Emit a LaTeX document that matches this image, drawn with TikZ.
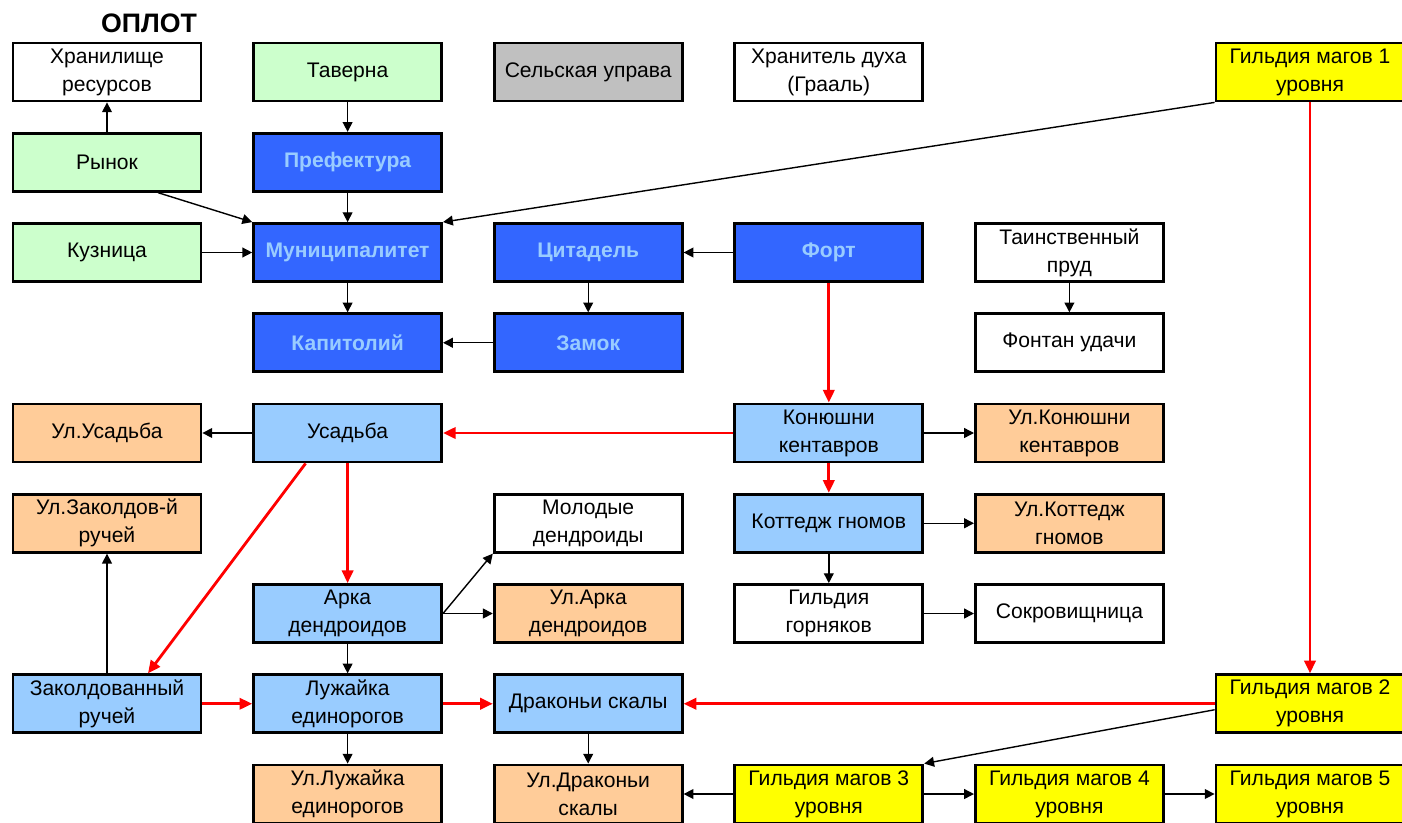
\documentclass[tikz,border=0pt]{standalone}
\usepackage{fontspec}
\setmainfont{Liberation Sans}
\usetikzlibrary{arrows.meta}
\definecolor{mintgreen}{HTML}{CCFFCC}
\definecolor{royal}{HTML}{3366FF}
\definecolor{sky}{HTML}{99CCFF}
\definecolor{peach}{HTML}{FFCC99}
\definecolor{lemon}{HTML}{FFFF00}
\definecolor{silver}{HTML}{C0C0C0}
\definecolor{arrowred}{HTML}{FF0000}
\tikzset{
    building/.style={draw, line width=2pt, minimum width=4.7cm, minimum height=1.45cm,
        inner sep=2pt, align=center, font=\fontsize{15}{20}\selectfont},
    plainbox/.style={building, fill=white},
    greenbox/.style={building, fill=mintgreen},
    greybox/.style={building, fill=silver},
    darkbox/.style={building, fill=royal, text=sky, font=\fontsize{15}{20}\selectfont\bfseries},
    lightbox/.style={building, fill=sky},
    streetbox/.style={building, fill=peach},
    guildbox/.style={building, fill=lemon},
    link/.style={-{Triangle[length=7pt,width=7pt]}, line width=1pt},
    mainlink/.style={-{Triangle[length=9pt,width=8pt]}, line width=2pt, arrowred},
}
\begin{document}
\begin{tikzpicture}[x=6.015cm, y=-2.25625cm]
\useasboundingbox (-2.675cm,1.8cm) rectangle (32.375cm,-18.75cm);
% buildings, column/row on the grid
\foreach \n/\c/\r/\t in {hran/0/0/{Хранилище\\ресурсов}, hranit/3/0/{Хранитель духа\\(Грааль)},
    prud/4/2/{Таинственный\\пруд}, fontan/4/3/{Фонтан удачи}, molod/2/5/{Молодые\\дендроиды},
    gorn/3/6/{Гильдия\\горняков}, sokr/4/6/{Сокровищница}} {
    \node[plainbox] (\n) at (\c,\r) {\t};
}
\foreach \n/\c/\r/\t in {taverna/1/0/{Таверна}, rynok/0/1/{Рынок}, kuzn/0/2/{Кузница}} {
    \node[greenbox] (\n) at (\c,\r) {\t};
}
\node[greybox] (uprava) at (2,0) {Сельская управа};
\foreach \n/\c/\r/\t in {pref/1/1/{Префектура}, munic/1/2/{Муниципалитет}, citad/2/2/{Цитадель},
    fort/3/2/{Форт}, kapit/1/3/{Капитолий}, zamok/2/3/{Замок}} {
    \node[darkbox] (\n) at (\c,\r) {\t};
}
\foreach \n/\c/\r/\t in {usad/1/4/{Усадьба}, konyu/3/4/{Конюшни\\кентавров}, kott/3/5/{Коттедж гномов},
    arka/1/6/{Арка\\дендроидов}, zakol/0/7/{Заколдованный\\ручей}, luzh/1/7/{Лужайка\\единорогов},
    drak/2/7/{Драконьи скалы}} {
    \node[lightbox] (\n) at (\c,\r) {\t};
}
\foreach \n/\c/\r/\t in {ulusad/0/4/{Ул.Усадьба}, ulkonyu/4/4/{Ул.Конюшни\\кентавров},
    ulzakol/0/5/{Ул.Заколдов-й\\ручей}, ulkott/4/5/{Ул.Коттедж\\гномов}, ularka/2/6/{Ул.Арка\\дендроидов},
    ulluzh/1/8/{Ул.Лужайка\\единорогов}, uldrak/2/8/{Ул.Драконьи\\скалы}} {
    \node[streetbox] (\n) at (\c,\r) {\t};
}
\foreach \n/\c/\r/\t in {gm1/5/0/1, gm2/5/7/2, gm3/3/8/3, gm4/4/8/4, gm5/5/8/5} {
    \node[guildbox] (\n) at (\c,\r) {Гильдия магов \t\\уровня};
}
\node[font=\fontsize{19}{22}\selectfont\bfseries] (title) at ([xshift=1.05cm,yshift=0.45cm]hran.north) {ОПЛОТ};
% black links
\foreach \a/\b in {rynok/hran, taverna/pref, pref/munic, kuzn/munic, munic/kapit, fort/citad,
    citad/zamok, zamok/kapit, prud/fontan, usad/ulusad, konyu/ulkonyu, kott/ulkott, kott/gorn,
    gorn/sokr, arka/ularka, arka/luzh, zakol/ulzakol, luzh/ulluzh, drak/uldrak, gm3/uldrak,
    gm3/gm4, gm4/gm5} {
    \draw[link] (\a) -- (\b);
}
\draw[link] ([xshift=1.275cm]rynok.south) -- (munic.north west);
\draw[link] (gm1.south west) -- (munic.north east);
\draw[link] (arka.east) -- (molod.south west);
\draw[link] ([yshift=-0.15cm]gm2.west) -- (gm3.north east);
% red links
\foreach \a/\b in {gm1/gm2, fort/konyu, konyu/usad, konyu/kott, usad/arka, zakol/luzh,
    luzh/drak, gm2/drak} {
    \draw[mainlink] (\a) -- (\b);
}
\draw[mainlink] ([xshift=-1.05cm]usad.south) -- ([xshift=1.025cm]zakol.north);
\end{tikzpicture}
\end{document}
